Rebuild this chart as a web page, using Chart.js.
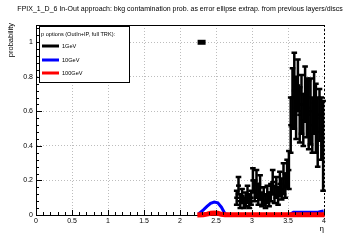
<!DOCTYPE html>
<html>
<head>
<meta charset="utf-8">
<script src="https://cdn.jsdelivr.net/npm/chart.js@4.4.0/dist/chart.umd.min.js"></script>
<style>
html, body { margin: 0; padding: 0; background: #fff; }
#wrap { width: 360px; height: 240px; }
</style>
</head>
<body>
<div id="wrap"><canvas id="chart" width="360" height="240"></canvas></div>
<script>
const titleText = 'FPIX_1_D_6 In-Out approach: bkg contamination prob. as error ellipse extrap. from previous layers/discs';
const legendHeader = 'p options (OutIn+IP, full TRK):';
const seriesNames = ['1GeV', '10GeV', '100GeV'];
const xTicks = [0, 0.5, 1, 1.5, 2, 2.5, 3, 3.5, 4];
const yTicks = [0, 0.2, 0.4, 0.6, 0.8, 1];

// 1GeV: points with errors
const eta1GeV = [2.3, 2.7875, 2.8125, 2.8375, 2.8625, 2.8875, 2.9125, 2.9375, 2.9625, 2.9875,
  3.0125, 3.0375, 3.0625, 3.0875, 3.1125, 3.1375, 3.1625, 3.1875, 3.2125, 3.2375,
  3.2625, 3.2875, 3.3125, 3.3375, 3.3625, 3.3875, 3.4125, 3.4375, 3.4625, 3.4875,
  3.5125, 3.5375, 3.5625, 3.5875, 3.6125, 3.6375, 3.6625, 3.6875, 3.7125, 3.7375,
  3.7625, 3.7875, 3.8125, 3.8375, 3.8625, 3.8875, 3.9125, 3.9375, 3.9625, 3.9875];
const val1GeV = [1.0, 0.10, 0.17, 0.08, 0.11, 0.07, 0.09, 0.12, 0.08, 0.10,
  0.20, 0.14, 0.18, 0.12, 0.16, 0.09, 0.11, 0.08, 0.12, 0.09,
  0.13, 0.19, 0.12, 0.16, 0.11, 0.18, 0.15, 0.21, 0.17, 0.24,
  0.26, 0.52, 0.68, 0.72, 0.62, 0.75, 0.58, 0.64, 0.55, 0.70,
  0.62, 0.58, 0.60, 0.52, 0.65, 0.56, 0.48, 0.58, 0.50, 0.40];
const err1GeV = [0, 0.04, 0.05, 0.04, 0.04, 0.03, 0.04, 0.05, 0.04, 0.04,
  0.07, 0.06, 0.08, 0.06, 0.07, 0.04, 0.05, 0.04, 0.05, 0.04,
  0.05, 0.07, 0.05, 0.06, 0.05, 0.07, 0.06, 0.09, 0.07, 0.08,
  0.11, 0.16, 0.17, 0.22, 0.18, 0.15, 0.16, 0.17, 0.15, 0.16,
  0.17, 0.20, 0.19, 0.16, 0.18, 0.20, 0.20, 0.15, 0.18, 0.26];

// 10GeV and 100GeV: thick lines
const etaHigh = [2.275, 2.325, 2.375, 2.425, 2.475, 2.525, 2.575, 2.625, 2.675, 2.725,
  2.775, 2.825, 2.875, 2.925, 2.975, 3.025, 3.075, 3.125, 3.175, 3.225,
  3.275, 3.325, 3.375, 3.425, 3.475, 3.525, 3.575, 3.625, 3.675, 3.725,
  3.775, 3.825, 3.875, 3.925, 3.975];
const val10GeV = [0.012, 0.03, 0.05, 0.068, 0.075, 0.07, 0.045, 0.008, 0.003, 0.003,
  0.003, 0.003, 0.003, 0.003, 0.003, 0.003, 0.003, 0.003, 0.003, 0.003,
  0.003, 0.003, 0.003, 0.003, 0.003, 0.003, 0.016, 0.016, 0.016, 0.016,
  0.016, 0.016, 0.016, 0.018, 0.022];
const val100GeV = [0.001, 0.002, 0.005, 0.01, 0.011, 0.01, 0.004, 0.001, 0.001, 0.001,
  0.001, 0.001, 0.001, 0.001, 0.001, 0.001, 0.001, 0.001, 0.001, 0.001,
  0.001, 0.001, 0.001, 0.001, 0.001, 0.001, 0.001, 0.001, 0.001, 0.001,
  0.001, 0.001, 0.001, 0.001, 0.001];

const colors = ['#000000', '#0000ff', '#ff0000'];
const FONT = '"Liberation Sans", Arial, sans-serif';

const rootStyle = {
  id: 'rootStyle',
  beforeDraw(chart) {
    const c = chart.ctx;
    c.save();
    c.fillStyle = '#fff';
    c.fillRect(0, 0, chart.width, chart.height);
    c.restore();
  },
  afterDatasetsDraw(chart) {
    const c = chart.ctx, xs = chart.scales.x, ys = chart.scales.y, a = chart.chartArea;
    c.save();
    // error bars of the 1GeV series
    c.strokeStyle = colors[0];
    c.lineWidth = 2.5;
    eta1GeV.forEach((eta, i) => {
      if (!err1GeV[i]) return;
      const px = xs.getPixelForValue(eta);
      const lo = ys.getPixelForValue(val1GeV[i] - err1GeV[i]);
      const hi = ys.getPixelForValue(val1GeV[i] + err1GeV[i]);
      c.beginPath();
      c.moveTo(px, lo); c.lineTo(px, hi);
      c.moveTo(px - 2.8, lo); c.lineTo(px + 2.8, lo);
      c.moveTo(px - 2.8, hi); c.lineTo(px + 2.8, hi);
      c.stroke();
    });
    // inside ticks
    c.lineWidth = 1;
    c.strokeStyle = '#000';
    c.beginPath();
    for (let k = 0; k <= 40; k++) {
      const px = Math.round(xs.getPixelForValue(k / 10)) + 0.5;
      const len = k % 5 === 0 ? 5 : 3;
      c.moveTo(px, a.bottom); c.lineTo(px, a.bottom - len);
    }
    for (let k = 0; k <= 27; k++) {
      const py = Math.round(ys.getPixelForValue(k * 0.04)) + 0.5;
      const len = k % 5 === 0 ? 6 : 3;
      c.moveTo(a.left, py); c.lineTo(a.left + len, py);
    }
    c.stroke();
    // frame top and right
    c.beginPath();
    c.moveTo(a.left, Math.round(a.top) + 0.5); c.lineTo(a.right, Math.round(a.top) + 0.5);
    c.stroke();
    c.setLineDash([2, 2]);
    c.beginPath();
    c.moveTo(Math.round(a.right) + 0.5, a.top); c.lineTo(Math.round(a.right) + 0.5, a.bottom);
    c.stroke();
    c.restore();
  },
  afterDraw(chart) {
    const c = chart.ctx;
    c.save();
    c.fillStyle = '#000';
    // title
    c.font = '7px ' + FONT;
    c.textAlign = 'center';
    c.textBaseline = 'middle';
    c.fillText(titleText, 180, 9.5);
    // axis titles
    c.font = '7.5px ' + FONT;
    c.save();
    c.translate(13, 23);
    c.rotate(-Math.PI / 2);
    c.textAlign = 'right';
    c.textBaseline = 'alphabetic';
    c.fillText('probability', 0, 0);
    c.restore();
    c.font = '8px ' + FONT;
    c.textAlign = 'right';
    c.textBaseline = 'alphabetic';
    c.fillText('\u03b7', 324, 231);
    // legend
    c.fillStyle = '#fff';
    c.fillRect(39.5, 26.5, 90, 56);
    c.strokeStyle = '#000';
    c.lineWidth = 1;
    c.strokeRect(39.5, 26.5, 90, 56);
    c.fillStyle = '#000';
    c.font = '5.6px ' + FONT;
    c.textAlign = 'left';
    c.textBaseline = 'middle';
    c.fillText(legendHeader, 41, 34);
    const rows = [46, 60, 73];
    seriesNames.forEach((name, i) => {
      c.strokeStyle = colors[i];
      c.lineWidth = 3;
      c.beginPath();
      c.moveTo(42, rows[i]); c.lineTo(59, rows[i]);
      c.stroke();
      c.fillStyle = '#000';
      c.fillText(name, 62, rows[i]);
    });
    c.restore();
  }
};

new Chart(document.getElementById('chart'), {
  type: 'scatter',
  data: {
    datasets: [
      {
        label: seriesNames[0],
        data: eta1GeV.map((x, i) => ({ x, y: val1GeV[i] })),
        showLine: false,
        pointStyle: 'line',
        pointRadius: ctx => (err1GeV[ctx.dataIndex] ? 2.5 : 4),
        pointBorderWidth: ctx => (err1GeV[ctx.dataIndex] ? 2.5 : 5),
        borderColor: colors[0],
        backgroundColor: colors[0],
        order: 0
      },
      {
        label: seriesNames[2],
        data: etaHigh.map((x, i) => ({ x, y: val100GeV[i] })),
        showLine: true,
        borderColor: colors[2],
        borderWidth: 5,
        borderCapStyle: 'square',
        pointRadius: 0,
        clip: false,
        order: 1
      },
      {
        label: seriesNames[1],
        data: etaHigh.map((x, i) => ({ x, y: val10GeV[i] })),
        showLine: true,
        borderColor: colors[1],
        borderWidth: 3,
        borderCapStyle: 'square',
        pointRadius: 0,
        clip: false,
        order: 2
      }
    ]
  },
  options: {
    responsive: false,
    animation: false,
    events: [],
    layout: { padding: { top: 25, right: 36, left: 0, bottom: 0 } },
    plugins: { legend: { display: false }, tooltip: { enabled: false }, title: { display: false } },
    scales: {
      x: {
        type: 'linear',
        min: 0,
        max: 4,
        afterBuildTicks: s => { s.ticks = xTicks.map(v => ({ value: v })); },
        afterFit: s => { s.height = 25; },
        ticks: { padding: 2, color: '#000', font: { size: 7, family: FONT }, callback: v => String(v) },
        grid: { color: '#bdbdbd', drawTicks: false, lineWidth: 1 },
        border: { display: true, color: '#000', width: 1, dash: [1, 2] }
      },
      y: {
        type: 'linear',
        min: 0,
        max: 1.1,
        afterBuildTicks: s => { s.ticks = yTicks.map(v => ({ value: v })); },
        afterFit: s => { s.width = 36; },
        ticks: { padding: 3, color: '#000', font: { size: 7, family: FONT }, callback: v => String(v) },
        grid: { color: '#bdbdbd', drawTicks: false, lineWidth: 1 },
        border: { display: true, color: '#000', width: 1, dash: [1, 2] }
      }
    }
  },
  plugins: [rootStyle]
});
</script>
</body>
</html>
